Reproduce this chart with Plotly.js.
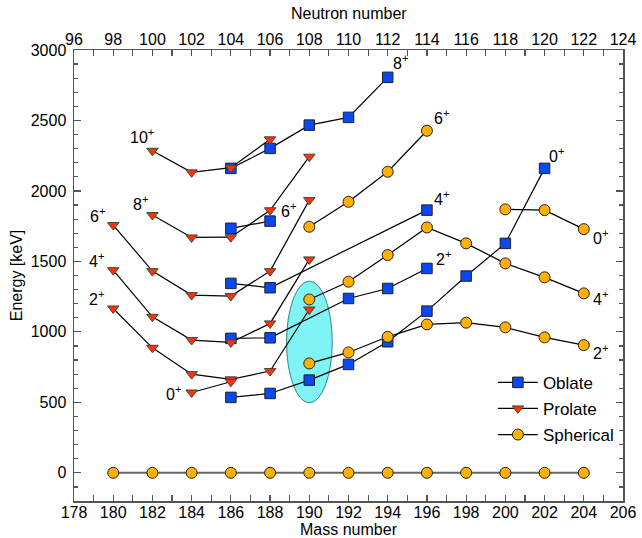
<!DOCTYPE html>
<html><head><meta charset="utf-8">
<script src="https://cdn.plot.ly/plotly-3.0.1.min.js"></script>
<style>html,body{margin:0;padding:0;background:#fff}#chart{width:642px;height:538px}</style>
</head><body><div id="chart"></div>
<script>
// ---- Data (mass number A, energy in keV) ----
// Oblate bands
const obl8A = [186, 188, 190, 192, 194];
const obl8E = [2160, 2302, 2467, 2522, 2806];
const obl6A = [186, 188];
const obl6E = [1735, 1786];
const obl4A = [186, 188, 196];
const obl4E = [1344, 1313, 1864];
const obl2A = [186, 188, 192, 194, 196];
const obl2E = [954, 958, 1237, 1308, 1450];
const obl0A = [186, 188, 190, 192, 194, 196, 198, 200, 202];
const obl0E = [535, 563, 658, 769, 930, 1147, 1396, 1628, 2160];
// Prolate bands
const pro10A = [182, 184, 186, 188];
const pro10E = [2285, 2132, 2165, 2366];
const pro8A = [182, 184, 186, 188, 190];
const pro8E = [1829, 1670, 1672, 1863, 2243];
const pro6A = [180, 182, 184, 186, 188, 190];
const pro6E = [1758, 1431, 1261, 1254, 1431, 1935];
const pro4A = [180, 182, 184, 186, 188, 190];
const pro4E = [1438, 1107, 942, 925, 1060, 1514];
const pro2A = [180, 182, 184, 186, 188, 190];
const pro2E = [1166, 887, 700, 663, 722, 1159];
const pro0A = [184, 186];
const pro0E = [570, 646];
// Spherical bands
const sph6A = [190, 192, 194, 196];
const sph6E = [1746, 1923, 2136, 2427];
const sph4A = [190, 192, 194, 196, 198, 200, 202, 204];
const sph4E = [1230, 1356, 1545, 1741, 1628, 1486, 1387, 1273];
const sph2A = [190, 192, 194, 196, 198, 200, 202, 204];
const sph2E = [776, 854, 965, 1053, 1065, 1032, 961, 906];
const sph0A = [200, 202, 204];
const sph0E = [1869, 1864, 1729];
const groundA = [180, 182, 184, 186, 188, 190, 192, 194, 196, 198, 200, 202, 204];
const groundE = [0, 0, 0, 0, 0, 0, 0, 0, 0, 0, 0, 0, 0];
// Neutron-number axis span (top axis)
const neutronRange = [96, 124];

// Band labels: [text, A, E]
const labels = [
  ['10<sup>+</sup>', 181.45, 2389], ['8<sup>+</sup>', 181.37, 1912], ['6<sup>+</sup>', 179.22, 1829],
  ['4<sup>+</sup>', 179.16, 1509], ['2<sup>+</sup>', 179.16, 1237], ['0<sup>+</sup>', 183.07, 563],
  ['8<sup>+</sup>', 194.63, 2914], ['6<sup>+</sup>', 188.92, 1864], ['4<sup>+</sup>', 196.76, 1947],
  ['2<sup>+</sup>', 196.84, 1521], ['0<sup>+</sup>', 202.63, 2254],
  ['6<sup>+</sup>', 196.76, 2526], ['0<sup>+</sup>', 204.84, 1675], ['4<sup>+</sup>', 204.84, 1237],
  ['2<sup>+</sup>', 204.84, 856]
];
// Highlight ellipse around A = 190
const ellipseA = [188.84, 191.17];
const ellipseE = [497, 1360];

const FONT = 'Liberation Sans, Arial, Helvetica, sans-serif';
const axisCol = '#555';

const oblStyle = {symbol: 'square', size: 10.5, color: '#0a47f5', line: {color: '#222', width: 1}};
const proStyle = {symbol: 'triangle-down', size: 10, color: '#ff3300', line: {color: '#444', width: 1}};
const sphStyle = {symbol: 'circle', size: 11, color: '#ffb000', line: {color: '#222', width: 1}};

function band(x, y, marker, name, show, lineCol, lineW) {
  return {x: x, y: y, type: 'scatter', mode: 'lines+markers', name: name, legendgroup: name,
    showlegend: show, marker: marker, line: {color: lineCol || '#000', width: lineW || 1.2},
    hoverinfo: 'x+y', cliponaxis: false};
}

const traces = [
  band(obl8A, obl8E, oblStyle, 'Oblate', true),
  band(obl6A, obl6E, oblStyle, 'Oblate', false),
  band(obl4A, obl4E, oblStyle, 'Oblate', false),
  band(obl2A, obl2E, oblStyle, 'Oblate', false),
  band(obl0A, obl0E, oblStyle, 'Oblate', false),
  band(pro10A, pro10E, proStyle, 'Prolate', true),
  band(pro8A, pro8E, proStyle, 'Prolate', false),
  band(pro6A, pro6E, proStyle, 'Prolate', false),
  band(pro4A, pro4E, proStyle, 'Prolate', false),
  band(pro2A, pro2E, proStyle, 'Prolate', false),
  band(pro0A, pro0E, proStyle, 'Prolate', false),
  band(groundA, groundE, sphStyle, 'Spherical', false, '#666', 2),
  band(sph6A, sph6E, sphStyle, 'Spherical', true),
  band(sph4A, sph4E, sphStyle, 'Spherical', false),
  band(sph2A, sph2E, sphStyle, 'Spherical', false),
  band(sph0A, sph0E, sphStyle, 'Spherical', false),
  // invisible carrier so the top (neutron number) axis is drawn
  {x: neutronRange, y: [null, null], xaxis: 'x2', yaxis: 'y', type: 'scatter', mode: 'markers',
    marker: {opacity: 0}, showlegend: false, hoverinfo: 'skip'}
];

const tickFont = {family: FONT, size: 16, color: '#000'};
const commonX = {
  tickmode: 'linear', dtick: 2, ticks: 'inside', ticklen: 6, tickwidth: 1.2, tickcolor: axisCol,
  minor: {dtick: 1, ticks: 'inside', ticklen: 6, tickwidth: 1.2, tickcolor: axisCol},
  showline: true, linecolor: axisCol, linewidth: 1.5, showgrid: false, zeroline: false,
  tickfont: tickFont, ticklabelstandoff: -4
};

const annots = labels.map(l => ({text: l[0], x: l[1], y: l[2], xref: 'x', yref: 'y', showarrow: false,
  font: {family: FONT, size: 16, color: '#000'}}));
annots.push({text: 'Neutron number', xref: 'paper', yref: 'paper', x: 0.5, y: 1.082,
  xanchor: 'center', yanchor: 'middle', showarrow: false, font: {family: FONT, size: 16, color: '#000'}});

const layout = {
  width: 642, height: 538,
  margin: {l: 74, r: 19, t: 50, b: 37},
  paper_bgcolor: '#fff', plot_bgcolor: '#fff',
  font: {family: FONT, size: 16, color: '#000'},
  xaxis: Object.assign({}, commonX, {range: [178, 206], tick0: 178,
    title: {text: 'Mass number', font: {family: FONT, size: 16}, standoff: 0}}),
  xaxis2: Object.assign({}, commonX, {range: neutronRange, tick0: 96, overlaying: 'x', side: 'top', anchor: 'y',
    ticklabelstandoff: -3}),
  yaxis: {range: [-200, 3000], tickmode: 'linear', tick0: 0, dtick: 500, ticks: 'inside', ticklen: 7,
    tickwidth: 1.2, tickcolor: axisCol,
    minor: {dtick: 100, ticks: 'inside', ticklen: 4, tickwidth: 1.2, tickcolor: axisCol},
    mirror: 'ticks', showline: true, linecolor: axisCol, linewidth: 1.5, showgrid: false, zeroline: false,
    tickfont: tickFont, ticklabelstandoff: 3,
    title: {text: 'Energy [keV]', font: {family: FONT, size: 16}, standoff: 4}},
  showlegend: true,
  legend: {x: 0.763, y: 0.302, xanchor: 'left', yanchor: 'top', bgcolor: 'rgba(0,0,0,0)',
    font: {family: FONT, size: 17, color: '#000'}, tracegroupgap: 1, itemwidth: 40},
  shapes: [{type: 'circle', xref: 'x', yref: 'y', layer: 'below',
    x0: ellipseA[0], x1: ellipseA[1], y0: ellipseE[0], y1: ellipseE[1],
    fillcolor: '#80f4f4', line: {color: '#2a8a8a', width: 1}}],
  annotations: annots
};

Plotly.newPlot('chart', traces, layout, {displayModeBar: false, staticPlot: true});
</script></body></html>
